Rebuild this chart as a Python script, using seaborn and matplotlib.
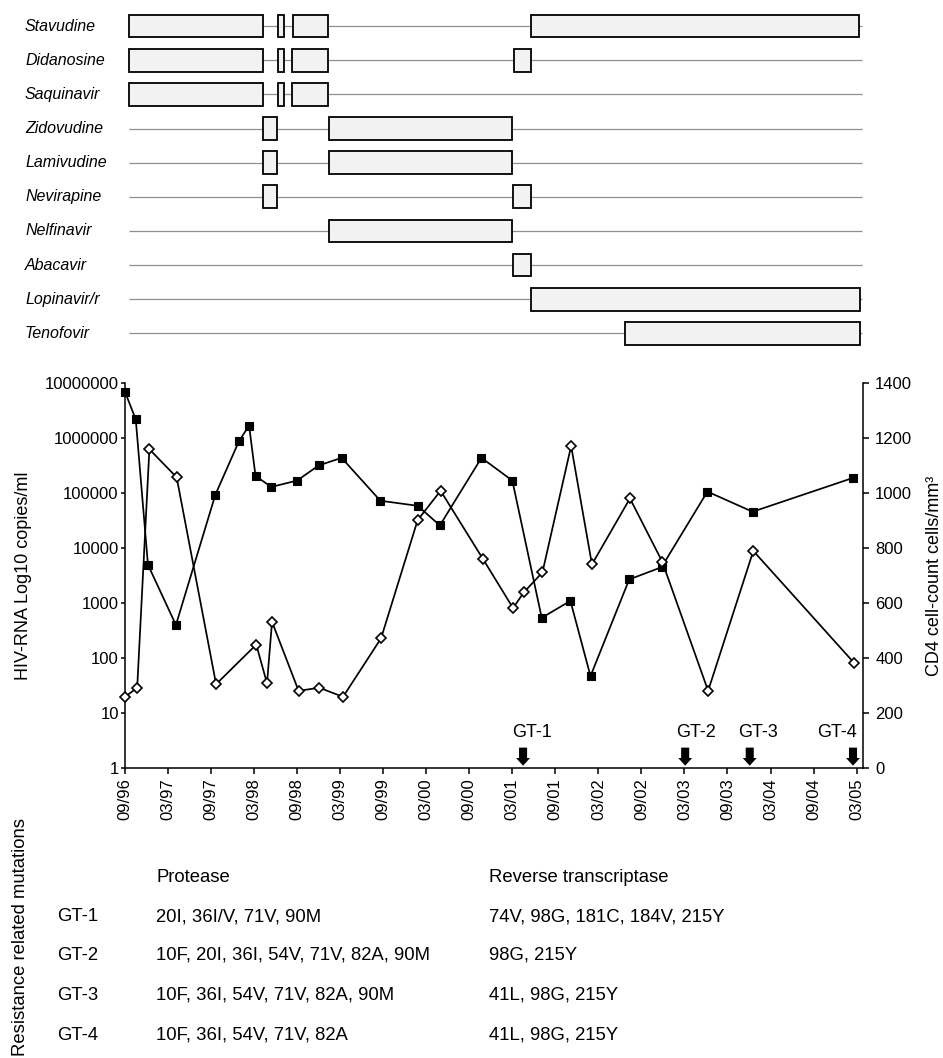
import matplotlib
matplotlib.use("Agg")
import matplotlib.pyplot as plt
import matplotlib.transforms as mtransforms
from matplotlib.ticker import FixedLocator, NullLocator
import seaborn as sns

# ------------------------------
# Data (time axis = months since 09/96)
# ------------------------------
tick_months = [0, 6, 12, 18, 24, 30, 36, 42, 48, 54, 60, 66, 72, 78, 84, 90, 96, 102]
tick_labels = ["09/96", "03/97", "09/97", "03/98", "09/98", "03/99", "09/99", "03/00",
               "09/00", "03/01", "09/01", "03/02", "09/02", "03/03", "09/03", "03/04",
               "09/04", "03/05"]

drugs = ["Stavudine", "Didanosine", "Saquinavir", "Zidovudine", "Lamivudine",
         "Nevirapine", "Nelfinavir", "Abacavir", "Lopinavir/r", "Tenofovir"]
drug_periods = [
    [(0.6, 19.3), (21.3, 22.2), (23.4, 28.3), (56.6, 102.4)],
    [(0.6, 19.3), (21.3, 22.2), (23.3, 28.3), (54.2, 56.6)],
    [(0.6, 19.3), (21.3, 22.2), (23.3, 28.3)],
    [(19.3, 21.2), (28.4, 54.0)],
    [(19.3, 21.2), (28.4, 54.0)],
    [(19.3, 21.2), (54.1, 56.6)],
    [(28.4, 53.9)],
    [(54.1, 56.6)],
    [(56.6, 102.5)],
    [(69.7, 102.5)],
]
timeline_span = (0.6, 102.7)

rna_months = [0.0, 1.5, 3.2, 7.1, 12.6, 15.9, 17.3, 18.2, 20.4, 24.0, 27.0, 30.2, 35.6,
              40.8, 43.9, 49.7, 54.0, 58.1, 62.1, 64.9, 70.3, 74.8, 81.2, 87.5, 101.5]
rna_copies = [7000000, 2200000, 5000, 400, 94000, 890000, 1700000, 206000, 130000,
              170000, 320000, 440000, 73000, 59000, 26000, 440000, 170000, 540, 1100,
              47, 2700, 4500, 107000, 46000, 190000]

cd4_months = [0.0, 1.7, 3.4, 7.2, 12.7, 18.3, 19.8, 20.5, 24.2, 27.1, 30.4, 35.7, 40.8,
              44.0, 49.9, 54.1, 55.6, 58.2, 62.2, 65.1, 70.4, 74.9, 81.3, 87.6, 101.7]
cd4_counts = [259, 292, 1160, 1058, 305, 449, 308, 532, 281, 292, 259, 472, 902, 1009,
              761, 582, 639, 712, 1172, 741, 981, 751, 281, 790, 381]

rna_ticks = [1, 10, 100, 1000, 10000, 100000, 1000000, 10000000]
cd4_ticks = [0, 200, 400, 600, 800, 1000, 1200, 1400]

gt_names = ["GT-1", "GT-2", "GT-3", "GT-4"]
gt_months = [55.5, 78.1, 87.1, 101.5]
gt_label_months = [56.8, 79.6, 88.2, 99.3]

protease = ["20I, 36I/V, 71V, 90M",
            "10F, 20I, 36I, 54V, 71V, 82A, 90M",
            "10F, 36I, 54V, 71V, 82A, 90M",
            "10F, 36I, 54V, 71V, 82A"]
rev_trans = ["74V, 98G, 181C, 184V, 215Y",
             "98G, 215Y",
             "41L, 98G, 215Y",
             "41L, 98G, 215Y"]

# ------------------------------
# Style
# ------------------------------
sns.set_style("ticks")
plt.rcParams["font.family"] = ["Liberation Sans", "DejaVu Sans"]
plt.rcParams["axes.linewidth"] = 1.1
for key in ["text.color", "axes.labelcolor", "xtick.color", "ytick.color", "axes.edgecolor"]:
    plt.rcParams[key] = "black"

W, H = 943, 1058
fig = plt.figure(figsize=(W / 100, H / 100), dpi=100)
X_MAX = 102.85

left = 125 / W
width = 737.7 / W

# ------------------------------
# Regimen panel
# ------------------------------
ax_top = fig.add_axes([left, 1 - 350.5 / H, width, 341.5 / H])
for i, periods in enumerate(drug_periods):
    ax_top.hlines(i, timeline_span[0], timeline_span[1], color="#8f8f8f", lw=0.9, zorder=1)
    for start, end in periods:
        ax_top.barh(i, end - start, left=start, height=0.665, color="#f2f2f2",
                    edgecolor="black", linewidth=1.3, zorder=2)
ax_top.set_xlim(0, X_MAX)
ax_top.set_ylim(len(drugs) - 0.5, -0.5)
ax_top.axis("off")

trans = mtransforms.blended_transform_factory(fig.transFigure, ax_top.transData)
for i, name in enumerate(drugs):
    ax_top.text(25 / W, i, name, transform=trans, ha="left", va="center",
                fontsize=11.5, style="italic")

# ------------------------------
# HIV-RNA / CD4 panel
# ------------------------------
ax = fig.add_axes([left, 1 - 768 / H, width, 384.7 / H])
ax.set_yscale("log")
sns.lineplot(x=rna_months, y=rna_copies, ax=ax, color="black", lw=1.25,
             marker="s", markersize=5.2, markerfacecolor="black",
             markeredgecolor="black", markeredgewidth=0.8,
             estimator=None, clip_on=False)
ax.set_xlim(0, X_MAX)
ax.set_ylim(1, 1e7)
ax.yaxis.set_major_locator(FixedLocator(rna_ticks))
ax.yaxis.set_minor_locator(NullLocator())
ax.set_yticklabels([str(v) for v in rna_ticks], fontsize=12)
ax.set_xticks(tick_months)
ax.set_xticklabels(tick_labels, rotation=90, fontsize=12)
ax.tick_params(axis="y", direction="out", length=3, width=1.1, pad=1.5)
ax.tick_params(axis="x", direction="out", length=4.5, width=1.1, pad=3)
ax.spines["top"].set_visible(False)
ax.spines["right"].set_visible(False)
ax.set_ylabel("HIV-RNA Log10 copies/ml", fontsize=13)
ax.yaxis.set_label_coords(-0.126, 0.5)

ax2 = ax.twinx()
sns.lineplot(x=cd4_months, y=cd4_counts, ax=ax2, color="black", lw=1.25,
             marker="D", markersize=5.5, markerfacecolor="white",
             markeredgecolor="black", markeredgewidth=1.2,
             estimator=None, clip_on=False)
ax2.set_ylim(0, 1400)
ax2.set_yticks(cd4_ticks)
ax2.set_yticklabels([str(v) for v in cd4_ticks], fontsize=12)
ax2.tick_params(axis="y", direction="out", length=4, width=1.1, pad=5)
for side in ["top", "left", "bottom"]:
    ax2.spines[side].set_visible(False)
ax2.set_ylabel("CD4 cell-count cells/mm³", fontsize=13)
ax2.yaxis.set_label_coords(1.086, 0.5)
ax2.set_xlim(0, X_MAX)

# genotype test arrows
for name, m, lm in zip(gt_names, gt_months, gt_label_months):
    ax.annotate("", xy=(m, 0.006), xytext=(m, 0.053),
                xycoords=("data", "axes fraction"), textcoords=("data", "axes fraction"),
                arrowprops=dict(arrowstyle="simple,head_length=0.55,head_width=1.0,tail_width=0.58",
                                color="black", lw=0, shrinkA=0, shrinkB=0,
                                mutation_scale=10))
    ax.text(lm, 0.091, name, transform=mtransforms.blended_transform_factory(ax.transData, ax.transAxes),
            ha="center", va="center", fontsize=13)

# ------------------------------
# Resistance mutation table
# ------------------------------
fig.text(21 / W, 1 - 937 / H, "Resistance related mutations", rotation=90,
         ha="center", va="center", fontsize=13.3)
fig.text(156 / W, 1 - 877 / H, "Protease", ha="left", va="center", fontsize=13.3)
fig.text(489 / W, 1 - 877 / H, "Reverse transcriptase", ha="left", va="center", fontsize=13.3)
row_y = [916.5, 955.5, 995, 1035]
for name, pr, rt, y in zip(gt_names, protease, rev_trans, row_y):
    fig.text(57 / W, 1 - y / H, name, ha="left", va="center", fontsize=13.3)
    fig.text(156 / W, 1 - y / H, pr, ha="left", va="center", fontsize=13.3)
    fig.text(489 / W, 1 - y / H, rt, ha="left", va="center", fontsize=13.3)

fig.savefig("out.png", dpi=100)
